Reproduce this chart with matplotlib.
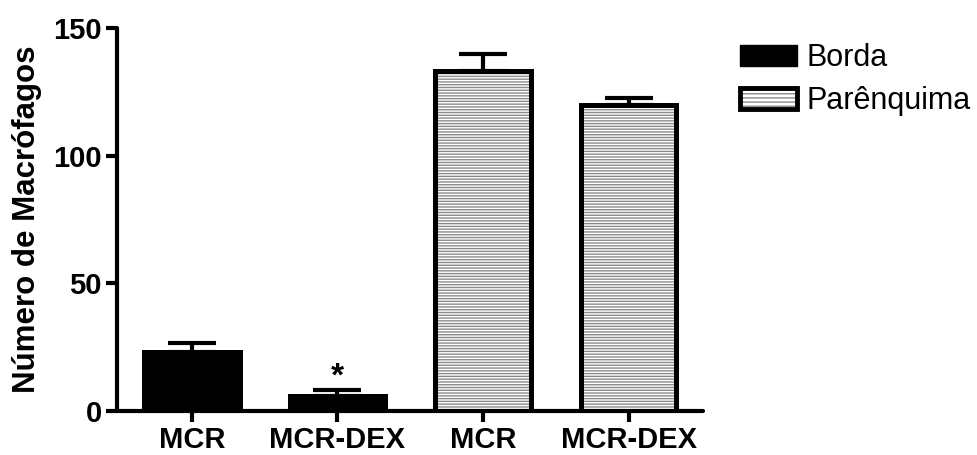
import matplotlib
matplotlib.use("Agg")
import matplotlib.pyplot as plt
from matplotlib.patches import Patch
import numpy as np

plt.rcParams['font.family'] = ['Liberation Sans', 'DejaVu Sans']
plt.rcParams['hatch.linewidth'] = 1.0

# Data
categories = ["MCR", "MCR-DEX", "MCR", "MCR-DEX"]
groups = ["Borda", "Borda", "Parênquima", "Parênquima"]
means = [23, 6, 133, 120]
errors = [3.5, 2.3, 7, 2.5]
significance = ["", "*", "", ""]
yticks = [0, 50, 100, 150]

fig = plt.figure(figsize=(9.78, 4.55), dpi=100)
ax = fig.add_axes([0.1196, 0.0967, 0.599, 0.8418])

x = np.arange(len(categories))
width = 0.655
lw = 3.6

for xi, m, e, g in zip(x, means, errors, groups):
    ax.errorbar(xi, m, yerr=[[0], [e]], fmt='none', ecolor='black',
                elinewidth=3, capsize=17, capthick=3, zorder=1)
    if g == "Borda":
        ax.bar(xi, m, width, color='black', edgecolor='black',
               linewidth=lw, zorder=2)
    else:
        ax.bar(xi, m, width, color='white', edgecolor='#8a8a8a',
               hatch='------', linewidth=0, zorder=2)
        ax.bar(xi, m, width, fill=False, edgecolor='black',
               linewidth=lw, zorder=3)

for xi, m, e, s in zip(x, means, errors, significance):
    if s:
        ax.text(xi, m + e - 1.0, s, ha='center', va='bottom',
                fontsize=24, fontweight='bold')

ax.set_xlim(-0.515, 3.51)
ax.set_ylim(0, 150)
ax.set_yticks(yticks)
ax.set_yticklabels([str(v) for v in yticks], fontsize=21, fontweight='bold')
ax.set_xticks(x)
ax.set_xticklabels(categories, fontsize=21, fontweight='bold')
ax.set_ylabel("Número de Macrófagos", fontsize=22.5, fontweight='bold', labelpad=8)

for side in ['top', 'right']:
    ax.spines[side].set_visible(False)
for side in ['left', 'bottom']:
    ax.spines[side].set_linewidth(3)
    ax.spines[side].set_capstyle('round')
ax.spines['left'].set_bounds(0, 150)
ax.tick_params(axis='both', length=8, width=3, pad=3)
ax.tick_params(axis='x', pad=3)

h_borda = Patch(facecolor='black', edgecolor='black', linewidth=1)
h_par_fill = Patch(facecolor='white', edgecolor='#8a8a8a', hatch='----', linewidth=0)
h_par_edge = Patch(facecolor='none', edgecolor='black', linewidth=3.5)
fig.legend([h_borda, (h_par_fill, h_par_edge)], ["Borda", "Parênquima"],
           loc='upper left', bbox_to_anchor=(0.757, 0.905), frameon=False,
           fontsize=22, handlelength=1.85, handleheight=0.7,
           handletextpad=0.3, labelspacing=0.42, borderaxespad=0,
           borderpad=0)

fig.savefig("out.png", dpi=100)
